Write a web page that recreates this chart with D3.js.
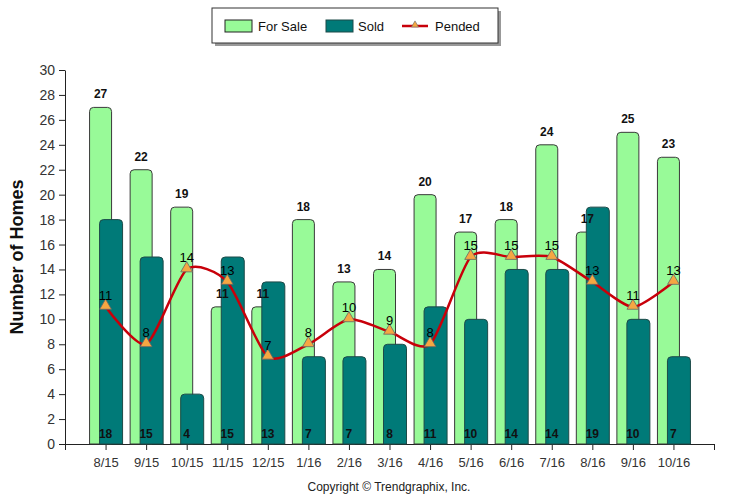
<!DOCTYPE html>
<html>
<head>
<meta charset="utf-8">
<script src="https://cdn.jsdelivr.net/npm/d3@7"></script>
<style>
  body { margin: 0; background: #fff; }
  svg text { font-family: "Liberation Sans", Arial, sans-serif; }
</style>
</head>
<body>
<svg id="chart" width="733" height="500"></svg>
<script>
const months = ['8/15', '9/15', '10/15', '11/15', '12/15', '1/16', '2/16', '3/16', '4/16', '5/16', '6/16', '7/16', '8/16', '9/16', '10/16'];
const forSale = [27, 22, 19, 11, 11, 18, 13, 14, 20, 17, 18, 24, 17, 25, 23];
const sold = [18, 15, 4, 15, 13, 7, 7, 8, 11, 10, 14, 14, 19, 10, 7];
const pended = [11, 8, 14, 13, 7, 8, 10, 9, 8, 15, 15, 15, 13, 11, 13];
const yTicks = d3.range(0, 31, 2);

const svg = d3.select('#chart');
const plotLeft = 65, plotRight = 714, plotTop = 70, plotBottom = 444;
const barW = 22;

const x = d3.scaleLinear().domain([0, months.length + 1]).range([plotLeft, plotRight]);
const y = d3.scaleLinear().domain([0, 30]).range([plotBottom, plotTop]);

// bar path with rounded top corners
function roundTop(x0, y0, w, h, r) {
  r = Math.min(r, h);
  return 'M' + x0 + ',' + (y0 + h) +
    'V' + (y0 + r) +
    'Q' + x0 + ',' + y0 + ' ' + (x0 + r) + ',' + y0 +
    'H' + (x0 + w - r) +
    'Q' + (x0 + w) + ',' + y0 + ' ' + (x0 + w) + ',' + (y0 + r) +
    'V' + (y0 + h) + 'Z';
}

// axes
const yAxis = svg.append('g')
    .attr('transform', 'translate(' + plotLeft + ',0)')
    .call(d3.axisLeft(y).tickValues(yTicks).tickSize(6).tickSizeOuter(0));
yAxis.selectAll('text').attr('font-size', 14).attr('fill', '#333').attr('dx', '-1');

const xAxis = svg.append('g')
    .attr('transform', 'translate(0,' + plotBottom + ')')
    .call(d3.axisBottom(x)
      .tickValues(d3.range(0, months.length + 2))
      .tickFormat(i => months[i - 1] || '')
      .tickSize(6).tickSizeOuter(0));
xAxis.selectAll('text').attr('font-size', 13).attr('fill', '#333').attr('dy', '1.1em');
svg.selectAll('.domain, .tick line').attr('stroke', '#222');

// for sale bars
svg.append('g').selectAll('path')
    .data(forSale)
    .enter()
    .append('path')
    .attr('d', (d, i) => roundTop(x(i + 1) - 16, y(d), barW, plotBottom - y(d), 4))
    .attr('fill', '#98FA98')
    .attr('stroke', '#3a3a3a')
    .attr('stroke-width', 1);

// sold bars
svg.append('g').selectAll('path')
    .data(sold)
    .enter()
    .append('path')
    .attr('d', (d, i) => roundTop(x(i + 1) - 6, y(d), barW + 1, plotBottom - y(d), 4))
    .attr('fill', '#007A78')
    .attr('stroke', '#1d4a48')
    .attr('stroke-width', 1);

// pended line
const line = d3.line()
    .x((d, i) => x(i + 1))
    .y(d => y(d))
    .curve(d3.curveCardinal.tension(0.3));

svg.append('path')
    .datum(pended)
    .attr('d', line)
    .attr('fill', 'none')
    .attr('stroke', '#C8000A')
    .attr('stroke-width', 2.5);

svg.append('g').selectAll('path')
    .data(pended)
    .enter()
    .append('path')
    .attr('d', d3.symbol().type(d3.symbolTriangle).size(60))
    .attr('transform', (d, i) => 'translate(' + x(i + 1) + ',' + (y(d) - 1) + ')')
    .attr('fill', '#F5A742')
    .attr('stroke', '#666')
    .attr('stroke-width', 0.8);

// labels
svg.append('g').selectAll('text')
    .data(forSale)
    .enter()
    .append('text')
    .attr('x', (d, i) => x(i + 1) - 5)
    .attr('y', d => y(d) - 9)
    .attr('text-anchor', 'middle')
    .attr('font-size', 12)
    .attr('font-weight', 'bold')
    .attr('fill', '#111')
    .text(d => d);

svg.append('g').selectAll('text')
    .data(sold)
    .enter()
    .append('text')
    .attr('x', (d, i) => x(i + 1))
    .attr('y', plotBottom - 6)
    .attr('text-anchor', 'middle')
    .attr('font-size', 12)
    .attr('font-weight', 'bold')
    .attr('fill', '#111')
    .text(d => d);

svg.append('g').selectAll('text')
    .data(pended)
    .enter()
    .append('text')
    .attr('x', (d, i) => x(i + 1))
    .attr('y', d => y(d) - 7)
    .attr('text-anchor', 'middle')
    .attr('font-size', 13)
    .attr('fill', '#000')
    .text(d => d);

// y title
svg.append('text')
    .attr('transform', 'translate(23,' + ((plotTop + plotBottom) / 2) + ') rotate(-90)')
    .attr('text-anchor', 'middle')
    .attr('font-size', 18)
    .attr('font-weight', 'bold')
    .attr('fill', '#111')
    .text('Number of Homes');

// copyright
svg.append('text')
    .attr('x', 389)
    .attr('y', 491)
    .attr('text-anchor', 'middle')
    .attr('font-size', 12)
    .attr('fill', '#222')
    .text('Copyright \u00A9 Trendgraphix, Inc.');

// legend
const lg = svg.append('g').attr('transform', 'translate(212,8)');
lg.append('rect').attr('x', 3).attr('y', 3).attr('width', 286).attr('height', 35).attr('fill', '#999');
lg.append('rect').attr('x', 0).attr('y', 0).attr('width', 286).attr('height', 35)
    .attr('fill', '#fff').attr('stroke', '#333').attr('stroke-width', 1);
lg.append('rect').attr('x', 13).attr('y', 12).attr('width', 27).attr('height', 12)
    .attr('fill', '#98FA98').attr('stroke', '#222');
lg.append('text').attr('x', 46).attr('y', 23).attr('font-size', 13).attr('fill', '#111').text('For Sale');
lg.append('rect').attr('x', 114).attr('y', 12).attr('width', 27).attr('height', 12)
    .attr('fill', '#007A78').attr('stroke', '#1d4a48');
lg.append('text').attr('x', 146).attr('y', 23).attr('font-size', 13).attr('fill', '#111').text('Sold');
lg.append('line').attr('x1', 190).attr('x2', 216).attr('y1', 18).attr('y2', 18)
    .attr('stroke', '#C8000A').attr('stroke-width', 2.5);
lg.append('path').attr('d', d3.symbol().type(d3.symbolTriangle).size(22))
    .attr('transform', 'translate(203,17)')
    .attr('fill', '#F5A742').attr('stroke', '#666').attr('stroke-width', 0.6);
lg.append('text').attr('x', 223).attr('y', 23).attr('font-size', 13).attr('fill', '#111').text('Pended');
</script>
</body>
</html>
